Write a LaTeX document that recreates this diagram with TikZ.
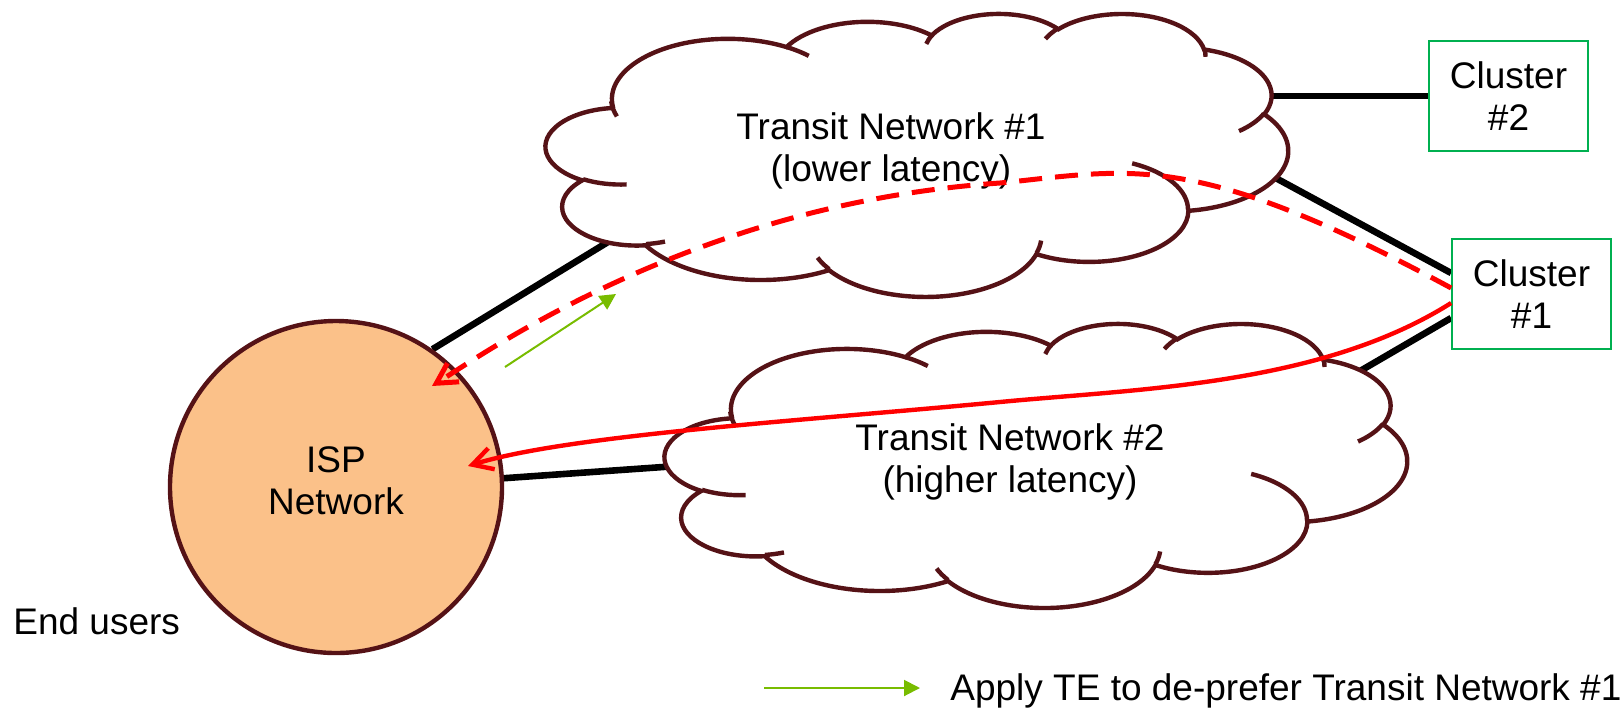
\documentclass[tikz,border=0pt]{standalone}
\usepackage{fontspec}
\setmainfont{Liberation Sans}
\usetikzlibrary{arrows.meta}

\definecolor{cloudedge}{RGB}{85,18,22}
\definecolor{ispfill}{RGB}{251,193,137}
\definecolor{boxgreen}{RGB}{0,176,80}
\definecolor{tegreen}{RGB}{120,188,0}
\definecolor{pathred}{RGB}{255,0,0}

\pgfdeclarelayer{wires}
\pgfsetlayers{wires,main}

% Cloud outline built from elliptic arcs in a 4320 x 4320 box (y pointing down).
% Arguments: target macro, x radius, y radius, start angle, sweep (angles as seen from the centre).
\newcommand\addcloudarc[5]{%
  \pgfmathsetmacro\cldA{atan2((#2)*sin(#4),(#3)*cos(#4))}%
  \pgfmathsetmacro\cldB{atan2((#2)*sin((#4)+(#5)),(#3)*cos((#4)+(#5)))}%
  \pgfmathsetmacro\cldD{mod(\cldB-\cldA+720,360)}%
  \xdef#1{#1 arc[start angle=\cldA, delta angle=\cldD, x radius=#2, y radius=#3]}%
}
\newcommand\addcloudhook[6]{%
  \xdef\cloudinner{\cloudinner (#1,#2)}%
  \addcloudarc\cloudinner{#3}{#4}{#5}{#6}%
}
\def\cloudouter{}
\def\cloudinner{}
\addcloudarc\cloudouter{675.3}{919.0}{-190.48748}{123.78053}
\addcloudarc\cloudouter{533.3}{726.7}{-144.10238}{89.94523}
\addcloudarc\cloudouter{436.5}{594.5}{-145.80792}{99.72302}
\addcloudarc\cloudouter{485.7}{659.5}{-130.98607}{117.24173}
\addcloudarc\cloudouter{533.3}{727.3}{-78.70888}{109.02692}
\addcloudarc\cloudouter{677.5}{922.0}{-46.26725}{130.26900}
\addcloudarc\cloudouter{578.5}{786.7}{0.62502}{114.03333}
\addcloudarc\cloudouter{675.2}{921.5}{22.45160}{115.17255}
\addcloudarc\cloudouter{772.0}{1054.3}{66.24263}{75.71102}
\addcloudarc\cloudouter{436.0}{591.8}{-274.94208}{146.73557}
\addcloudarc\cloudouter{434.5}{594.5}{-246.82850}{152.51885}
\addcloudhook{469.3}{2617.7}{434.5}{594.5}{86.742}{26.4295}
\addcloudhook{692.8}{3489.9}{436.0}{591.8}{73.61047}{11.44747}
\addcloudhook{1647.8}{3909.0}{675.2}{921.5}{137.62415}{14.0811}
\addcloudhook{2882.7}{3475.1}{675.2}{921.5}{6.45327}{15.99835}
\addcloudhook{3412.9}{2295.4}{578.5}{786.7}{-70.29235}{70.91737}
\addcloudhook{4179.8}{1535.4}{533.3}{727.3}{30.31803}{27.7515}
\addcloudhook{3832.4}{542.6}{485.7}{659.5}{-13.74433}{14.86223}
\addcloudhook{2907.8}{395.2}{485.7}{659.5}{-149.18145}{18.19537}
\addcloudhook{2214.1}{472.0}{436.5}{594.5}{-163.49427}{17.68635}
\addcloudhook{1400.0}{519.2}{675.3}{919.0}{-66.70695}{12.31935}
\addcloudhook{412.7}{1578.9}{675.3}{919.0}{155.63552}{19.4169}

% Draws a cloud whose box has its top left corner at (#1,#2), size #3 x #4
\newcommand\cloudshape[4]{%
  \pgfmathsetmacro\cldux{#3/8640}%
  \pgfmathsetmacro\clduy{#4/8640}%
  \begin{scope}[shift={(#1,#2)}, x=\cldux pt, y=-\clduy pt]
    \draw[cloudline, fill=white] (390,1437) \cloudouter -- cycle;
    \draw[cloudline] \cloudinner;
  \end{scope}
}

\begin{document}
\begin{tikzpicture}[x=0.5pt, y=-0.5pt,
  txt/.style={font=\fontsize{18.5}{21}\selectfont, align=center, inner sep=0pt},
  cloudline/.style={draw=cloudedge, line width=2.2pt},
  wire/.style={draw=black, line width=3.3pt},
  clusterbox/.style={txt, draw=boxgreen, line width=0.9pt, fill=white,
    minimum width=79.5pt, minimum height=55pt},
  route/.style={draw=pathred, line width=2.2pt,
    -{Straight Barb[length=10pt, width=11pt]}},
  altroute/.style={route, line width=2.5pt, dash pattern=on 11.5pt off 6.5pt},
  tearrow/.style={draw=tegreen, line width=1pt,
    -{Triangle[length=8pt, width=8pt]}}]

\useasboundingbox (0,0) rectangle (1624,714);

% transit networks
\cloudshape{546}{13}{742}{283}
\cloudshape{665}{323}{742}{284}

% ISP network and the clusters
\node[circle, draw=cloudedge, line width=2.2pt, fill=ispfill,
  minimum size=166pt, inner sep=0pt] (isp) at (336,487) {};
\node[txt] (isptext) at (336,481) {ISP\\Network};
\node[clusterbox] (c2) at (1508.5,96) {Cluster\\\#2};
\node[clusterbox] (c1) at (1531.5,294) {Cluster\\\#1};

\node[txt] (t1) at (891,151) {Transit Network \#1\\(lower latency)};
\node[txt] (t2) at (1010,462) {Transit Network \#2\\(higher latency)};
\node[txt, anchor=base west] (users) at (13,634) {End users};

% link ends hidden inside the clouds
\coordinate (cl1a) at (680,198);
\coordinate (cl1b) at (1200,96);
\coordinate (cl1c) at (1200,137);
\coordinate (cl2a) at (720,463);
\coordinate (cl2b) at (1300,406);

\begin{pgfonlayer}{wires}
  \draw[wire] (isp.55) -- (cl1a);
  \draw[wire] (isp.3) -- (cl2a);
  \draw[wire] (c2.west) -- (cl1b);
  \draw[wire] ([yshift=10.5pt]c1.west) -- (cl1c);
  \draw[wire] ([yshift=-12pt]c1.west) -- (cl2b);
\end{pgfonlayer}

% traffic paths towards the ISP
\coordinate (ispa) at (432,386);
\coordinate (ispb) at (468,466);
\draw[altroute] ([yshift=3pt]c1.west)
  .. controls (1192,148) and (1130,170) .. (1000,183)
  .. controls (700,203) and (492,348) .. (ispa);
\draw[route] ([yshift=-4.5pt]c1.west)
  .. controls (1320,386) and (1134,389) .. (1000,402)
  .. controls (800,421) and (568,435) .. (ispb);

% traffic engineering shift
\coordinate (ga) at (505,367);
\coordinate (gb) at (616,294);
\draw[tearrow] (ga) -- (gb);

% legend
\coordinate (lg1) at (764,688);
\coordinate (lg2) at (920,688);
\draw[tearrow] (lg1) -- (lg2);
\node[txt, anchor=base west] (legend) at (950,700) {Apply TE to de-prefer Transit Network \#1};
\end{tikzpicture}
\end{document}
